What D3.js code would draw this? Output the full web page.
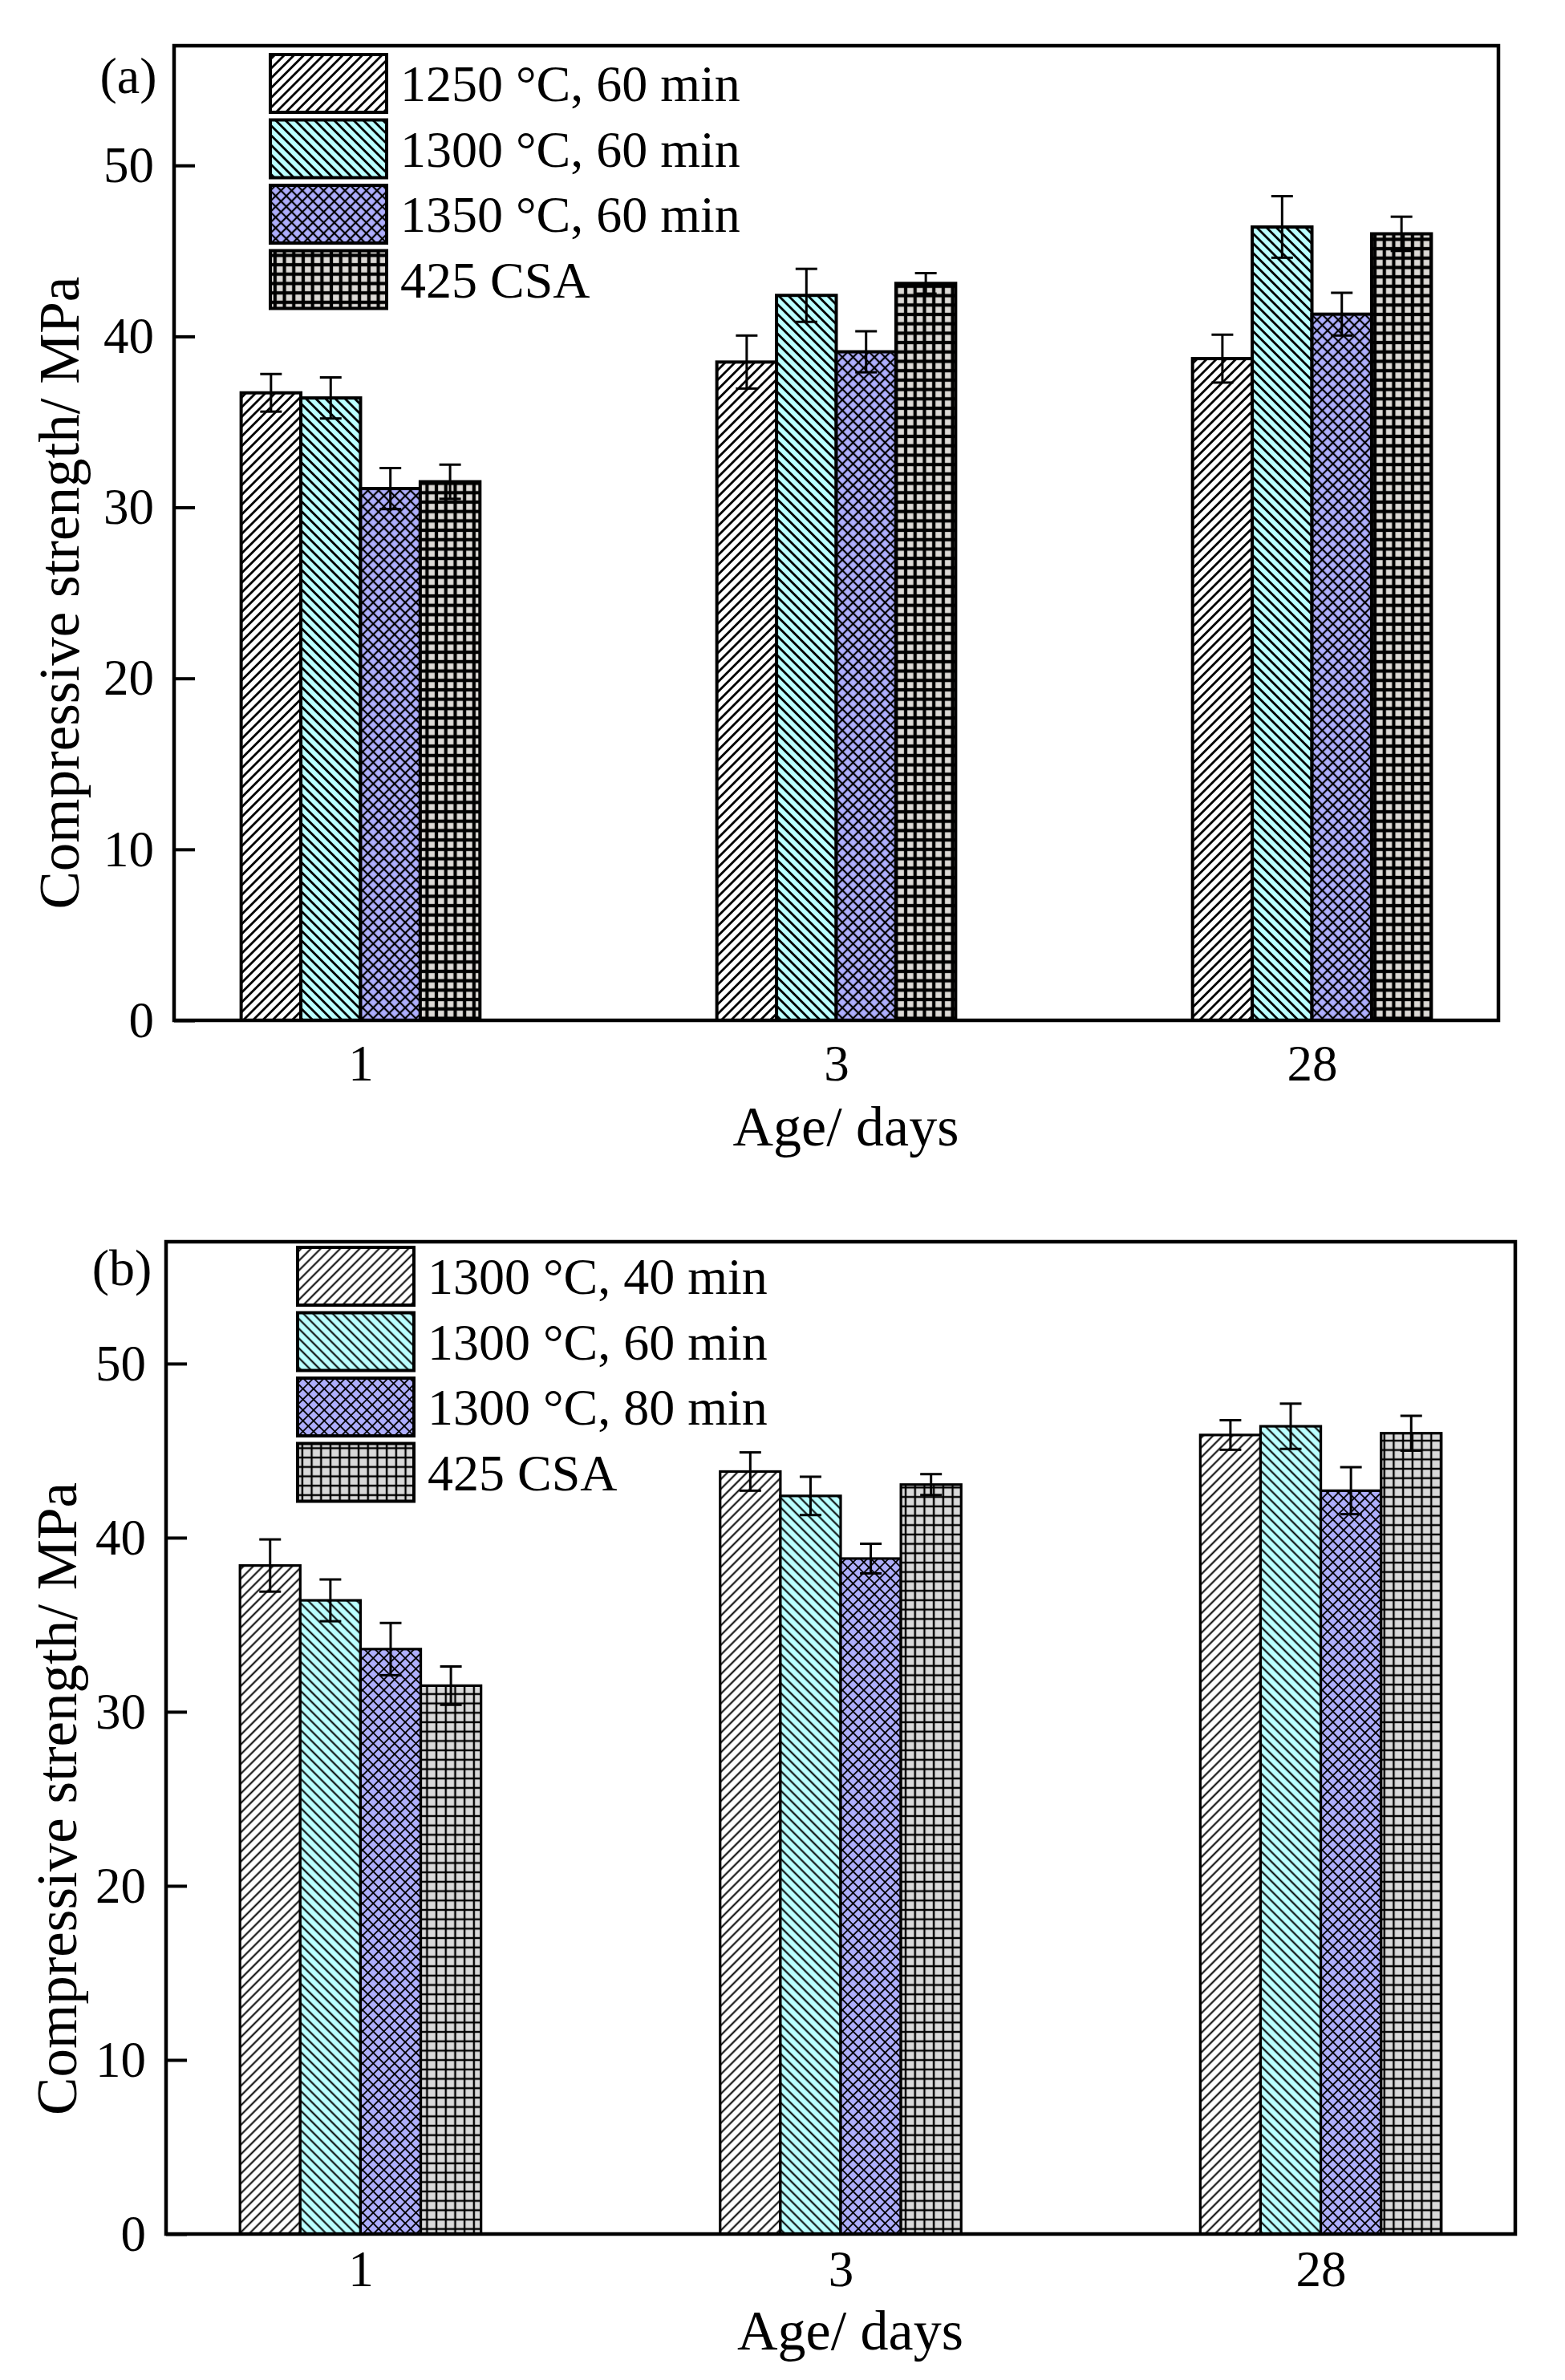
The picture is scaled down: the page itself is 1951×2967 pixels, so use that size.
<!DOCTYPE html>
<html>
<head>
<meta charset="utf-8">
<script src="https://cdn.jsdelivr.net/npm/d3@7"></script>
<style>
  body { margin: 0; background: #fff; }
  svg { display: block; font-family: "Liberation Serif", "Times New Roman", serif; }
</style>
</head>
<body>
<svg id="chart" width="1951" height="2967"></svg>
<script>
// data
const ages = ["1", "3", "28"];
const yTicks = [0, 10, 20, 30, 40, 50];

const seriesA = ["1250 °C, 60 min", "1300 °C, 60 min", "1350 °C, 60 min", "425 CSA"];
const meanA = [
  [36.7, 38.5, 38.7],
  [36.4, 42.4, 46.4],
  [31.1, 39.1, 41.3],
  [31.5, 43.1, 46.0],
];
const errA = [
  [1.1, 1.55, 1.4],
  [1.2, 1.55, 1.8],
  [1.2, 1.2, 1.25],
  [1.0, 0.6, 1.0],
];

const seriesB = ["1300 °C, 40 min", "1300 °C, 60 min", "1300 °C, 80 min", "425 CSA"];
const meanB = [
  [38.4, 43.8, 45.9],
  [36.4, 42.4, 46.4],
  [33.6, 38.8, 42.7],
  [31.5, 43.05, 46.0],
];
const errB = [
  [1.5, 1.1, 0.85],
  [1.2, 1.1, 1.3],
  [1.5, 0.85, 1.35],
  [1.1, 0.6, 1.0],
];

const fills = ["#ffffff", "#bbffff", "#aeaefc", "#dcd9d5"];

const svg = d3.select("#chart");
const defs = svg.append("defs");

// hatch patterns: "/" white, "\" cyan, diagonal cross lavender, grid grey
function makePatterns(key, lw, crossLw, gridLw, gray) {
  const kinds = [
    { rot: 45, lines: ["v"], fill: fills[0], sp: 8.6, lw: lw },
    { rot: -45, lines: ["v"], fill: fills[1], sp: 8.6, lw: lw },
    { rot: 45, lines: ["v", "h"], fill: fills[2], sp: 9.4, lw: crossLw },
    { rot: 0, lines: ["v", "h"], fill: gray, sp: 11.7, lw: gridLw },
  ];
  kinds.forEach((k, i) => {
    const s = k.sp;
    const p = defs.append("pattern")
      .attr("id", `pat-${key}-${i}`)
      .attr("patternUnits", "userSpaceOnUse")
      .attr("width", s)
      .attr("height", s)
      .attr("patternTransform", `rotate(${k.rot})`);
    p.append("rect").attr("width", s).attr("height", s).attr("fill", k.fill);
    k.lines.forEach((d) => {
      const l = p.append("line").attr("stroke", "#000").attr("stroke-width", k.lw);
      if (d === "v") {
        l.attr("x1", s / 2).attr("x2", s / 2).attr("y1", -1).attr("y2", s + 1);
      } else {
        l.attr("y1", s / 2).attr("y2", s / 2).attr("x1", -1).attr("x2", s + 1);
      }
    });
  });
}

makePatterns("a", 2.8, 2.2, 4.2, fills[3]);
makePatterns("b", 2.0, 1.8, 2.4, "#d9d9d9");

const panels = [
  {
    key: "a", tag: "(a)", series: seriesA, mean: meanA, err: errA,
    top: 57, bottom: 1272, left: 217, right: 1868, pad: 0.392,
    tagX: 160, tagY: 116,
    legX: 337, legY: 68,
    tickPad: 30, titleY: 1428, yTitleX: 98, barStroke: 4,
  },
  {
    key: "b", tag: "(b)", series: seriesB, mean: meanB, err: errB,
    top: 1548, bottom: 2785, left: 207, right: 1889, pad: 0.405,
    tagX: 152, tagY: 1602,
    legX: 371, legY: 1555,
    tickPad: 20, titleY: 2929, yTitleX: 95, barStroke: 3.2,
  },
];

panels.forEach((P) => {
  const g = svg.append("g");
  const x = d3.scalePoint(ages, [P.left, P.right]).padding(P.pad);
  const step = x.step();
  const inner = d3.scaleBand(d3.range(P.series.length), [-0.251 * step, 0.251 * step]);
  const y = d3.scaleLinear([0, 57], [P.bottom, P.top]);

  // bars
  P.series.forEach((name, si) => {
    g.selectAll(null)
      .data(ages)
      .join("rect")
      .attr("x", (d) => x(d) + inner(si))
      .attr("width", inner.bandwidth())
      .attr("y", (d, i) => y(P.mean[si][i]))
      .attr("height", (d, i) => y(0) - y(P.mean[si][i]))
      .attr("fill", `url(#pat-${P.key}-${si})`)
      .attr("stroke", "#000")
      .attr("stroke-width", P.barStroke);
  });

  // error bars
  const capW = 13.5;
  P.series.forEach((name, si) => {
    const eb = g.selectAll(null)
      .data(ages)
      .join("g")
      .attr("stroke", "#000")
      .attr("stroke-width", 3);
    const cx = (d) => x(d) + inner(si) + inner.bandwidth() / 2;
    eb.append("line")
      .attr("x1", cx).attr("x2", cx)
      .attr("y1", (d, i) => y(P.mean[si][i] - P.err[si][i]))
      .attr("y2", (d, i) => y(P.mean[si][i] + P.err[si][i]));
    [-1, 1].forEach((sgn) => {
      eb.append("line")
        .attr("x1", (d) => cx(d) - capW).attr("x2", (d) => cx(d) + capW)
        .attr("y1", (d, i) => y(P.mean[si][i] + sgn * P.err[si][i]))
        .attr("y2", (d, i) => y(P.mean[si][i] + sgn * P.err[si][i]));
    });
  });

  // axes
  const yAxis = g.append("g")
    .attr("transform", `translate(${P.left},0)`)
    .call(d3.axisLeft(y).tickValues(yTicks).tickSize(-26).tickPadding(25));
  const xAxis = g.append("g")
    .attr("transform", `translate(0,${P.bottom})`)
    .call(d3.axisBottom(x).tickSize(0).tickPadding(P.tickPad));
  [yAxis, xAxis].forEach((a) => {
    a.select(".domain").remove();
    a.selectAll("text").attr("font-size", 63).attr("fill", "#000")
      .attr("font-family", "Liberation Serif");
    a.selectAll("line").attr("stroke", "#000").attr("stroke-width", 4);
  });

  // frame
  g.append("rect")
    .attr("x", P.left).attr("y", P.top)
    .attr("width", P.right - P.left).attr("height", P.bottom - P.top)
    .attr("fill", "none").attr("stroke", "#000").attr("stroke-width", 4.5);

  // titles
  g.append("text")
    .attr("x", (P.left + P.right) / 2 + 12).attr("y", P.titleY)
    .attr("text-anchor", "middle").attr("font-size", 70)
    .text("Age/ days");
  g.append("text")
    .attr("transform", `translate(${P.yTitleX},${y(25)}) rotate(-90)`)
    .attr("text-anchor", "middle").attr("font-size", 71)
    .text("Compressive strength/ MPa");
  g.append("text")
    .attr("x", P.tagX).attr("y", P.tagY)
    .attr("text-anchor", "middle").attr("font-size", 64)
    .text(P.tag);

  // legend
  const leg = g.append("g").attr("transform", `translate(${P.legX},${P.legY})`);
  const row = leg.selectAll("g")
    .data(P.series)
    .join("g")
    .attr("transform", (d, i) => `translate(0,${i * 81.5})`);
  row.append("rect")
    .attr("width", 145).attr("height", 72)
    .attr("fill", (d, i) => `url(#pat-${P.key}-${i})`)
    .attr("stroke", "#000").attr("stroke-width", 4);
  row.append("text")
    .attr("x", 162).attr("y", 58)
    .attr("font-size", 64)
    .text((d) => d);
});
</script>
</body>
</html>
